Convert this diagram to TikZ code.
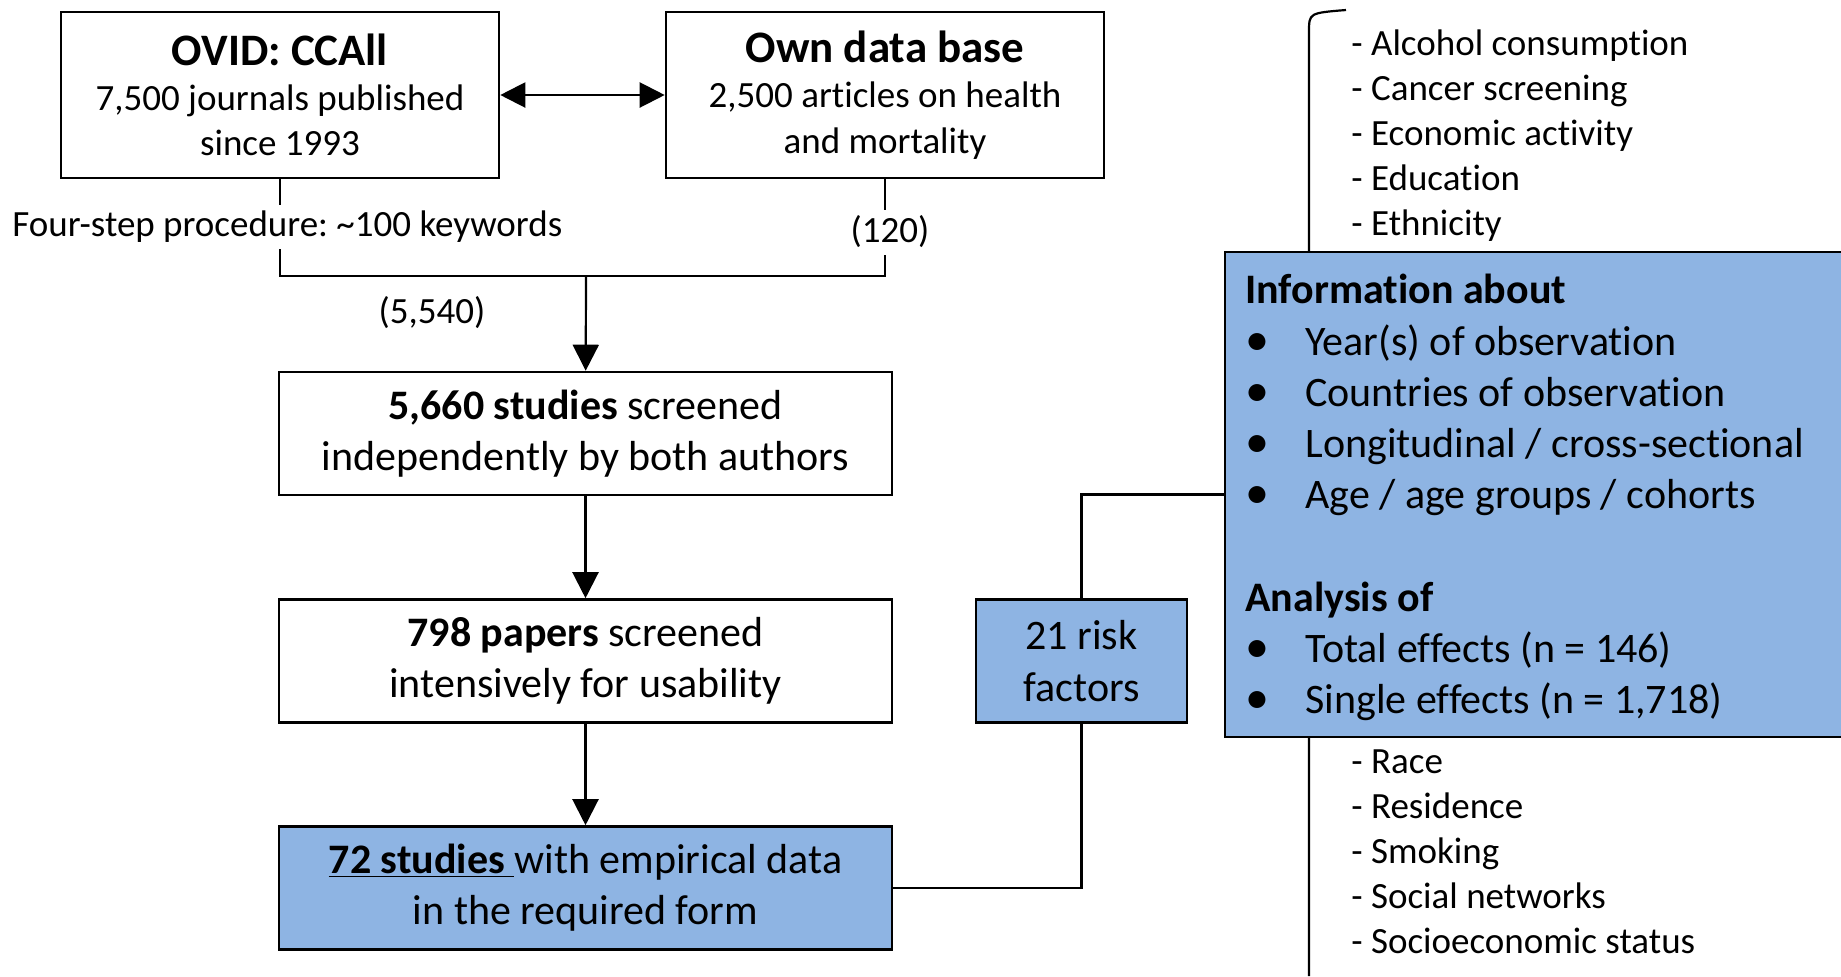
\documentclass[tikz,border=0pt]{standalone}
\usepackage{fontspec}
\setmainfont{Carlito}[Ligatures=NoCommon,Contextuals=NoAlternate]
\frenchspacing
\usetikzlibrary{arrows.meta,positioning}
\definecolor{boxblue}{RGB}{142,180,227}
\newcommand{\bigfont}{\fontsize{21}{25.6}\selectfont}
\newcommand{\midfont}{\fontsize{18.5}{22.6}\selectfont}
\newcommand{\headfont}{\fontsize{22.5}{26}\selectfont\bfseries}
\newcommand{\infobullet}{\makebox[30pt][l]{\fontsize{24}{24}\selectfont\textbullet}}
\tikzset{
  flowbox/.style={draw,line width=1.3pt,minimum width=306.5pt,minimum height=61.5pt,align=center,font=\bigfont},
  srcbox/.style={draw,line width=1.3pt,minimum width=219pt,minimum height=83pt,align=center,font=\midfont},
  link/.style={line width=1.1pt},
  flowarrow/.style={link,-{Triangle[length=13pt,width=13pt]}},
  biarrow/.style={link,{Triangle[length=12.5pt,width=12.5pt]}-{Triangle[length=12.5pt,width=12.5pt]}},
  listtext/.style={anchor=north west,align=left,inner sep=0pt},
}
\begin{document}
\begin{tikzpicture}[x=0.5pt,y=-0.5pt]
  \useasboundingbox (0,0) rectangle (1841,976);
  % bracket with the risk factors
  \draw[link] (1346,10) .. controls (1309,13) .. (1309,32) -- (1309,976);
  \node[listtext,font=\midfont] (toplist) at (1351,29) {- Alcohol consumption\\- Cancer screening\\- Economic activity\\- Education\\- Ethnicity};
  \node[listtext,font=\midfont] (botlist) at (1351,749) {- Race\\- Residence\\- Smoking\\- Social networks\\- Socioeconomic status};
  \node[draw,line width=1.3pt,fill=boxblue,minimum width=312.5pt,minimum height=242.5pt] (info) at (1537.5,494.5) {};
  \node[listtext,font=\bigfont] (infotext) at (1245,274) {\textbf{Information about}\\
    \infobullet Year(s) of observation\\
    \infobullet Countries of observation\\
    \infobullet Longitudinal / cross-sectional\\
    \infobullet Age / age groups / cohorts\\[25.6pt]
    \textbf{Analysis of}\\
    \infobullet Total effects (n = 146)\\
    \infobullet Single effects (n = 1,718)};

  % sources
  \node[srcbox] (ovid) at (280,95) {{\headfont OVID: CCAll}\\7,500 journals published\\since 1993};
  \node[srcbox] (own) at (885,95) {{\headfont Own data base}\\2,500 articles on health\\and mortality};
  \draw[biarrow] (ovid) -- (own);
  \node[anchor=west,font=\midfont,inner sep=3pt] (steps) at (6,227) {Four-step procedure: \textasciitilde100 keywords};
  \node[font=\midfont,inner sep=3pt] (n120) at (890,232) {(120)};
  \node[font=\midfont] (n5540) at (432,313) {(5,540)};
  \coordinate (join) at (586,276);
  \draw[link] (ovid.south) -- (ovid.south |- steps.north);
  \draw[link] (own.south) -- (own.south |- n120.north);
  \draw[link] (ovid.south |- steps.south) |- (join) -| (own.south |- n120.south);

  % screening steps
  \node[flowbox] (screen) at (585.5,433.5) {\textbf{5,660 studies} screened\\independently by both authors};
  \node[flowbox] (papers) at (585.5,661) {\textbf{798 papers} screened\\intensively for usability};
  \node[flowbox,fill=boxblue] (final) at (585.5,888) {\underline{\textbf{72 studies} }with empirical data\\in the required form};
  \node[flowbox,fill=boxblue,minimum width=105.5pt] (risk) at (1081.5,661) {21 risk\\factors};
  \draw[flowarrow] (join) -- (screen);
  \draw[flowarrow] (screen) -- (papers);
  \draw[flowarrow] (papers) -- (final);
  \draw[link] (final.east) -| (risk.south);
  \draw[link] (risk.north) |- (info.west);
\end{tikzpicture}
\end{document}
